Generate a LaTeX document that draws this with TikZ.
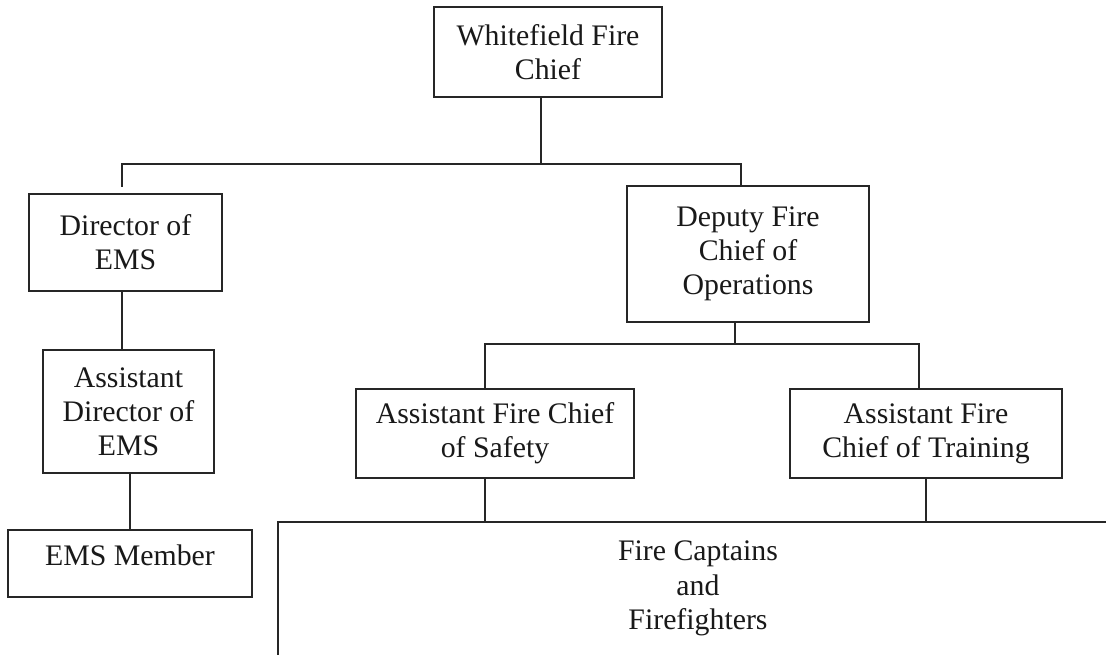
\documentclass[tikz,border=0pt]{standalone}
\usepackage{fontspec}
\setmainfont{Liberation Serif}
\begin{document}
\begin{tikzpicture}[x=1pt,y=-1pt,
  box/.style={draw=black!85, line width=1.4pt, inner sep=0pt, align=center,
    font=\fontsize{29.8}{34}\selectfont, text=black!90},
  txt/.style={inner sep=0pt, align=center, font=\fontsize{29.8}{34.5}\selectfont, text=black!90},
  conn/.style={draw=black!85, line width=1.4pt}]
\useasboundingbox (0,0) rectangle (1106,655);
\fill[white] (0,0) rectangle (1106,655);

\node[box, minimum width=228pt, minimum height=90pt] (chief) at (548,52) {Whitefield Fire\\Chief};
\node[box, minimum width=193pt, minimum height=97pt] (ems) at (125.5,242.5) {Director of\\EMS};
\node[box, minimum width=171pt, minimum height=123pt] (aems) at (128.5,411.5) {Assistant\\Director of\\EMS};
\node[box, minimum width=244pt, minimum height=67pt, text depth=16pt] (emsm) at (130,563.5) {EMS Member};
\node[box, minimum width=242pt, minimum height=136pt] (dep) at (748,254) {Deputy Fire\\Chief of\\Operations};
\node[box, minimum width=278pt, minimum height=89pt] (safe) at (495,433.5) {Assistant Fire Chief\\of Safety};
\node[box, minimum width=272pt, minimum height=89pt] (train) at (926,433.5) {Assistant Fire\\Chief of Training};
\node[txt] (fire) at (698,588.5) {Fire Captains\\and\\Firefighters};

% open box of Fire Captains
\coordinate (fireTL) at (278,522);
\coordinate (fireTR) at (1106,522);
\coordinate (fireBL) at (278,655);
\draw[conn] (fireTR) -- (fireTL) -- (fireBL);

% top bus
\coordinate (b1) at (541,164);
\coordinate (b1L) at (122,164);
\coordinate (b1R) at (741,164);
\coordinate (emsTop) at (122,187);
\draw[conn] (b1 |- chief.south) -- (b1);
\draw[conn] (emsTop) -- (b1L) -- (b1R) -- (b1R |- dep.north);

% EMS chain
\coordinate (emsX) at (122,0);
\draw[conn] (emsX |- ems.south) -- (emsX |- aems.north);
\coordinate (aemsX) at (130,0);
\draw[conn] (aemsX |- aems.south) -- (aemsX |- emsm.north);

% second bus
\coordinate (b2) at (735,344);
\coordinate (b2L) at (485,344);
\coordinate (b2R) at (919,344);
\draw[conn] (b2 |- dep.south) -- (b2);
\draw[conn] (b2L |- safe.north) -- (b2L) -- (b2R) -- (b2R |- train.north);

% down to Fire Captains
\coordinate (sX) at (485,0);
\coordinate (tX) at (926,0);
\draw[conn] (sX |- safe.south) -- (sX |- fireTL);
\draw[conn] (tX |- train.south) -- (tX |- fireTL);
\end{tikzpicture}
\end{document}
